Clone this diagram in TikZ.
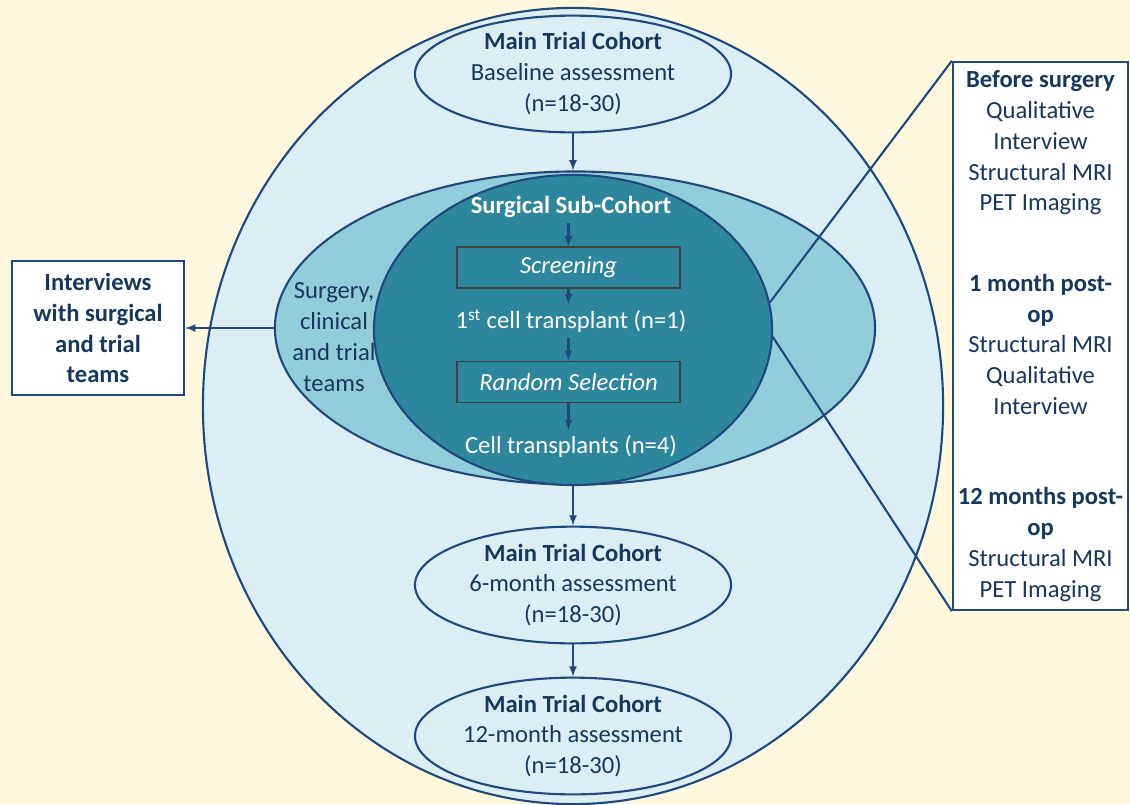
\documentclass[tikz,border=0pt]{standalone}
\usepackage{fontspec}
\setmainfont{Carlito}
\usepackage{xcolor}
\usepackage{tikz}
\usetikzlibrary{shapes.geometric}
\usetikzlibrary{arrows,calc}
\definecolor{cream}{HTML}{FFF8DF}
\definecolor{paleblue}{HTML}{DAEEF3}
\definecolor{midblue}{HTML}{92CDDC}
\definecolor{deepteal}{HTML}{2E869E}
\definecolor{linenavy}{HTML}{1F497D}
\definecolor{textnavy}{HTML}{17375E}
\newcommand{\diagfont}{\fontsize{17.5}{22}\selectfont}
\tikzset{
	cohort/.style={
			ellipse, draw=linenavy, line width=1.5pt, fill=paleblue, text=textnavy,
			minimum width=7.9cm, minimum height=2.8cm, inner sep=0pt, align=center
		},
	stepbox/.style={
			rectangle, draw=black!75, line width=0.8pt, text=white, font=\diagfont\itshape,
			minimum width=5.575cm, minimum height=1.025cm, inner sep=0pt
		},
	flow/.style={draw=linenavy, line width=1.5pt, -latex},
	sidebox/.style={
			rectangle, draw=linenavy, line width=1.6pt, fill=white, text=textnavy,
			align=center, inner sep=0pt
		}
}

\begin{document}
\begin{tikzpicture}[x=0.025cm, y=-0.025cm, font=\diagfont]
		\fill[cream] (0,0) rectangle (1130,804);
		\useasboundingbox (0,0) rectangle (1130,804);
		\node[ellipse, draw=linenavy, line width=1.5pt, fill=paleblue, minimum width=18.5cm, minimum height=19.9cm, inner sep=0pt] (outer) at (573,406) {};
		\node[cohort] (base) at (573,74) {\textbf{Main Trial Cohort}\\Baseline assessment\\(n=18-30)};
		\node[ellipse, draw=linenavy, line width=1.5pt, fill=midblue, minimum width=15cm, minimum height=7.825cm, inner sep=0pt] (mid) at (575,328) {};
		\node[ellipse, draw=linenavy, line width=1.5pt, fill=deepteal, minimum width=9.95cm, minimum height=7.75cm, inner sep=0pt] (inner) at (573,330) {};
		\node[text=white, font=\diagfont\bfseries] (sub) at (571,207) {Surgical Sub-Cohort};
		\node[stepbox] (screen) at (568.5,267.5) {Screening};
		\node[text=white] (first) at (571,321) {1\textsuperscript{st} cell transplant (n=1)};
		\node[stepbox] (random) at (568.5,382) {Random Selection};
		\node[text=white] (cells) at (571,446) {Cell transplants (n=4)};
		\node[text=textnavy, align=center] (teams) at (334,337) {Surgery,\\clinical\\and trial\\teams};
		\node[cohort] (six) at (573,585) {\textbf{Main Trial Cohort}\\6-month assessment\\(n=18-30)};
		\node[cohort] (twelve) at (573,736) {\textbf{Main Trial Cohort}\\12-month assessment\\(n=18-30)};
		\node[sidebox, font=\diagfont\bfseries, minimum width=4.3cm, minimum height=3.35cm] (interviews) at (98,328) {Interviews\\with surgical\\and trial\\teams};
		\node[sidebox, minimum width=4.375cm, minimum height=13.7cm] (tests) at (1040.5,336) {\textbf{Before surgery}\\Qualitative\\Interview\\Structural MRI\\PET Imaging\\[35pt]\textbf{1 month post-}\\\textbf{op}\\Structural MRI\\Qualitative\\Interview\\[42pt]\textbf{12 months post-}\\\textbf{op}\\Structural MRI\\PET Imaging};
		\draw[flow] (base.south) -- (mid.north -| base.south);
		\draw[flow] (sub.south -| screen.north) -- (screen.north);
		\draw[flow] (screen.south) -- (first.north -| screen.south);
		\draw[flow] (first.south -| random.north) -- (random.north);
		\draw[flow] (random.south) -- (cells.north -| random.south);
		\draw[flow] (inner.south -| six.north) -- (six.north);
		\draw[flow] (six.south) -- (twelve.north);
		\draw[flow] (mid.west) -- (interviews.east);
		\draw[draw=linenavy, line width=1.5pt] (inner.8) -- (tests.north west);
		\draw[draw=linenavy, line width=1.5pt] (inner.-2) -- (tests.south west);
	\end{tikzpicture}
\end{document}
